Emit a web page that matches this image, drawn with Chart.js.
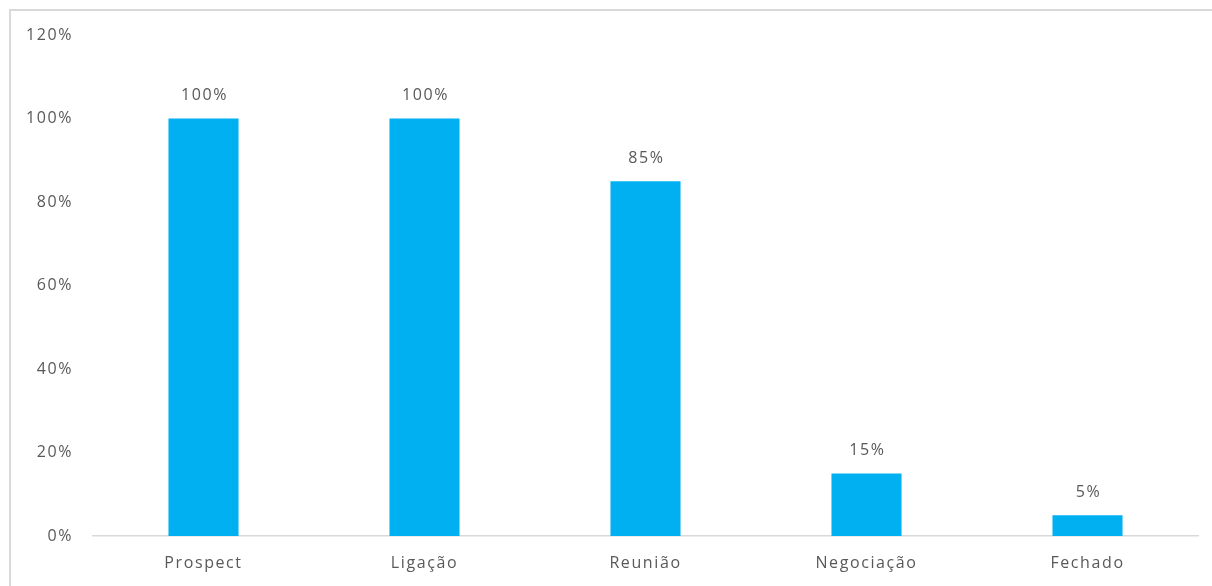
<!DOCTYPE html>
<html>
<head>
<meta charset="utf-8">
<script src="https://cdn.jsdelivr.net/npm/chart.js@4/dist/chart.umd.min.js"></script>
<style>
  html, body { margin:0; padding:0; background:#fff; overflow:hidden; }
  #frame { position:absolute; left:9px; top:9px; width:1230px; height:620px; border:2px solid #d9d9d9; box-sizing:border-box; }
  #wrap { position:absolute; left:0; top:0; width:1212px; height:586px; }
</style>
</head>
<body>
<div id="frame"></div>
<div id="wrap"><canvas id="c" width="1212" height="586"></canvas></div>
<script>
const categories = ["Prospect", "Ligação", "Reunião", "Negociação", "Fechado"];
const values = [100, 100, 85, 15, 5];
const yTicks = [0, 20, 40, 60, 80, 100, 120];

const FONT = "'Open Sans', sans-serif";
const TEXT = "#595959";
const SPACING = '1.6px';

const spacingPlugin = {
  id: 'spacing',
  beforeInit(chart) { chart.ctx.letterSpacing = SPACING; },
  beforeUpdate(chart) { chart.ctx.letterSpacing = SPACING; },
  beforeDraw(chart) { chart.ctx.letterSpacing = SPACING; }
};

const labelPlugin = {
  id: 'barLabels',
  afterDatasetsDraw(chart) {
    const ctx = chart.ctx;
    const meta = chart.getDatasetMeta(0);
    ctx.save();
    ctx.letterSpacing = SPACING;
    ctx.font = "16px " + FONT;
    ctx.fillStyle = TEXT;
    ctx.textAlign = 'center';
    ctx.textBaseline = 'middle';
    meta.data.forEach((bar, i) => {
      ctx.fillText(values[i] + '%', bar.x + 1, bar.y - 23);
    });
    ctx.restore();
  }
};

new Chart(document.getElementById('c'), {
  type: 'bar',
  data: {
    labels: categories,
    datasets: [{
      data: values,
      backgroundColor: '#00b0f0',
      borderWidth: 0,
      barPercentage: 0.317,
      categoryPercentage: 1.0
    }]
  },
  options: {
    responsive: false,
    animation: false,
    devicePixelRatio: 1,
    layout: { padding: { top: 35, right: 14, bottom: 0, left: 0 } },
    plugins: { legend: { display: false }, tooltip: { enabled: false } },
    scales: {
      x: {
        grid: { display: true, color: 'rgba(0,0,0,0)', drawTicks: false },
        border: { display: true, color: '#d9d9d9', width: 1.5 },
        ticks: { color: TEXT, font: { family: FONT, size: 16 }, padding: 18 },
        afterFit(s) { s.height = 50; }
      },
      y: {
        min: 0, max: 120,
        afterBuildTicks(s) { s.ticks = yTicks.map(v => ({ value: v })); },
        grid: { display: false, drawTicks: false },
        border: { display: false },
        ticks: { color: TEXT, font: { family: FONT, size: 16 }, padding: 20,
                 callback: v => v + '%' },
        afterFit(s) { s.width = 93; }
      }
    }
  },
  plugins: [spacingPlugin, labelPlugin]
});
</script>
</body>
</html>
